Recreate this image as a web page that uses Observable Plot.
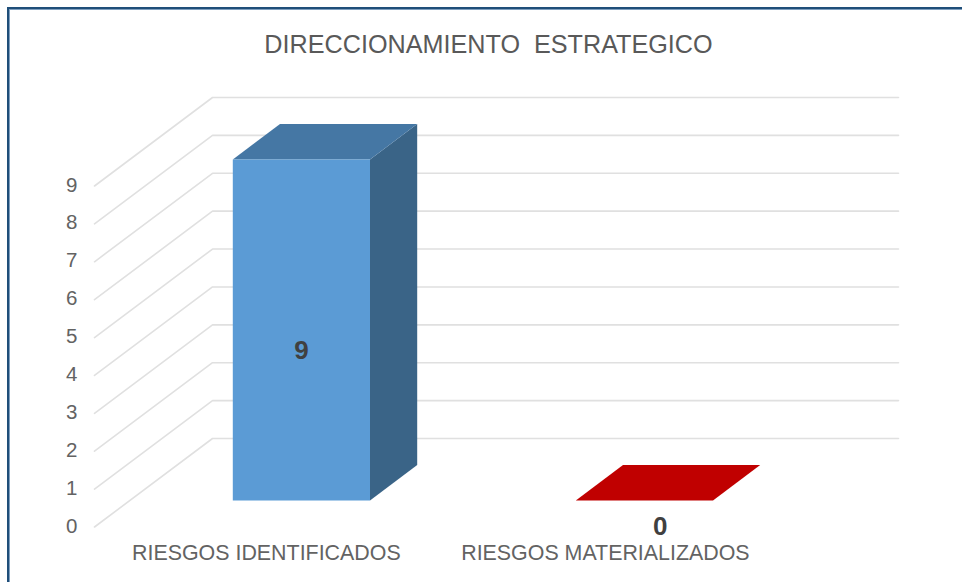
<!DOCTYPE html>
<html>
<head>
<meta charset="utf-8">
<script src="https://cdn.jsdelivr.net/npm/d3@7"></script>
<script src="https://cdn.jsdelivr.net/npm/@observablehq/plot@0.6"></script>
<style>
  html, body { margin: 0; padding: 0; background: #fff; }
  #chart { position: relative; width: 962px; height: 582px; overflow: hidden; }
  #chart svg { display: block; position: absolute; left: 0; top: 0; background: transparent; }
  #edge { position: absolute; left: 7px; top: 7px; right: 0; bottom: 0;
          border-left: 2px solid #1F4E79; border-top: 2px solid #1F4E79;
          box-shadow: inset 1px 1px 0 #7F9FBF; }
</style>
</head>
<body>
<div id="chart"><div id="edge"></div></div>
<script>
const chartTitle = "DIRECCIONAMIENTO  ESTRATEGICO";
const categories = ["RIESGOS IDENTIFICADOS", "RIESGOS MATERIALIZADOS"];
const values = [9, 0];
const frontColors = ["#5B9BD5", "#C00000"];
const topColors = ["#4577A4", "#C00000"];
const sideColors = ["#3A6487", "#C00000"];
const yTicks = [0, 1, 2, 3, 4, 5, 6, 7, 8, 9];

// Oblique projection of the 3D box, in scale units
const depthX = 118 / 343;
const depthY = 88.5 / 37.89;
const barFront = 0.30, barBack = 0.70, barHalf = 0.2;
const labelShiftX = [0.1035, 0.1495];
const labelLiftY = [0.16, 0];
const categoryShiftX = [0.001, -0.0105];

const px = (c, d) => c + 0.5 + d * depthX;
const py = (v, d) => v + d * depthY;

const grid = yTicks.flatMap(v => [
  {v, x: 0, y: py(v, 0)},
  {v, x: depthX, y: py(v, 1)},
  {v, x: 2 + depthX, y: py(v, 1)}
]);

function face(i, kind) {
  const v = values[i];
  const L = -barHalf, R = barHalf;
  const pt = (s, val, d) => ({i, x: px(i, d) + s, y: py(val, d)});
  if (kind === "front") return [pt(L, 0, barFront), pt(R, 0, barFront), pt(R, v, barFront), pt(L, v, barFront), pt(L, 0, barFront)];
  if (kind === "top") return [pt(L, v, barFront), pt(R, v, barFront), pt(R, v, barBack), pt(L, v, barBack), pt(L, v, barFront)];
  return [pt(R, 0, barFront), pt(R, 0, barBack), pt(R, v, barBack), pt(R, v, barFront), pt(R, 0, barFront)];
}
const faces = (kind, colors) => categories.flatMap((_, i) => face(i, kind).map(p => ({...p, c: colors[i]})));

const font = "'Liberation Sans', Arial, sans-serif";

const plot = Plot.plot({
  width: 962, height: 582,
  marginLeft: 94, marginRight: 64, marginTop: 97, marginBottom: 55.5,
  x: {domain: [0, 2 + depthX], axis: null},
  y: {domain: [0, 9 + depthY], axis: null},
  color: {type: "identity"},
  style: {background: "transparent", fontFamily: font},
  marks: [
    Plot.line(grid, {x: "x", y: "y", z: "v", stroke: "#E0E0E0", strokeWidth: 1.6, curve: "linear"}),
    Plot.axisY({ticks: yTicks, tickSize: 0, tickPadding: 17, anchor: "left", label: null, fontSize: 20.5, fill: "#636363", dy: -1, tickFormat: d3.format("d")}),
    Plot.line(faces("side", sideColors), {x: "x", y: "y", z: "i", fill: "c", stroke: "none", curve: "linear"}),
    Plot.line(faces("top", topColors), {x: "x", y: "y", z: "i", fill: "c", stroke: "none", curve: "linear"}),
    Plot.line(faces("front", frontColors), {x: "x", y: "y", z: "i", fill: "c", stroke: "none", curve: "linear"}),
    Plot.text(categories, {
      x: (d, i) => i + 0.5 + categoryShiftX[i], y: () => 0,
      text: d => d, dy: 26, fontSize: 21.4, fill: "#636363"
    }),
    Plot.text(values, {
      x: (d, i) => i + 0.5 + labelShiftX[i], y: (d, i) => d / 2 + labelLiftY[i],
      text: d => String(d), fontSize: 26, fontWeight: 700, fill: "#404040"
    }),
    Plot.text([chartTitle], {
      frameAnchor: "top", text: d => d, dx: -8, dy: -53, fontSize: 25.2, fill: "#595959", lineAnchor: "middle"
    })
  ]
});
document.getElementById("chart").appendChild(plot);
</script>
</body>
</html>
